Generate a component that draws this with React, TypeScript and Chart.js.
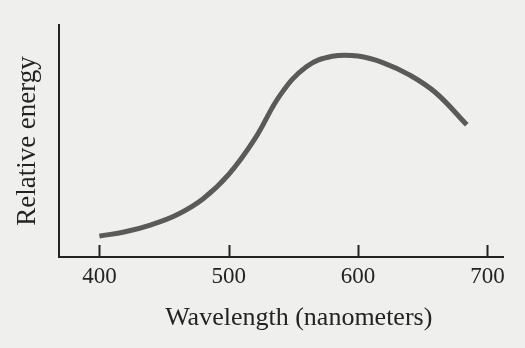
import React, { useEffect, useRef } from "react";
import { Chart, registerables } from "chart.js";

Chart.register(...registerables);

const wavelengths = [400, 420, 440, 460, 480, 500, 520, 540, 560, 580, 600, 620, 640, 660, 684];
const energy = [9.0, 10.9, 13.9, 18.2, 25.0, 35.6, 50.8, 70.0, 82.0, 86.5, 86.6, 83.6, 78.4, 70.8, 57.0];
const xTicks = [400, 500, 600, 700];
const xTitle = "Wavelength (nanometers)";
const yTitle = "Relative energy";

const FONT = "'Liberation Serif', 'Times New Roman', serif";
const INK = "#232323";

const axisDecor = {
  id: "axisDecor",
  afterDraw(chart: any) {
    const sx = chart.scales.x;
    const ctx = chart.ctx;
    const { bottom, left, right } = chart.chartArea;
    ctx.save();
    ctx.strokeStyle = INK;
    ctx.lineWidth = 2;
    for (const v of xTicks) {
      const px = Math.round(sx.getPixelForValue(v)) + 0.5;
      ctx.beginPath();
      ctx.moveTo(px, bottom);
      ctx.lineTo(px, bottom - 12);
      ctx.stroke();
    }
    ctx.fillStyle = INK;
    ctx.font = `26px ${FONT}`;
    ctx.textAlign = "center";
    ctx.textBaseline = "middle";
    ctx.fillText(xTitle, (left + right) / 2 + 18, bottom + 61);
    ctx.restore();
  },
};

export default function App() {
  const ref = useRef<HTMLCanvasElement | null>(null);
  useEffect(() => {
    if (!ref.current) return;
    const chart = new Chart(ref.current, {
      type: "scatter",
      data: {
        datasets: [
          {
            data: wavelengths.map((w, i) => ({ x: w, y: energy[i] })),
            showLine: true,
            borderColor: "#5a5a5a",
            borderWidth: 5,
            borderCapStyle: "butt",
            pointRadius: 0,
            tension: 0.4,
            fill: false,
          } as any,
        ],
      },
      options: {
        responsive: false,
        animation: false,
        layout: { padding: { top: 25, right: 22, left: 0, bottom: 0 } },
        plugins: { legend: { display: false }, tooltip: { enabled: false } },
        scales: {
          x: {
            type: "linear",
            min: 368.4,
            max: 712,
            afterBuildTicks: (s: any) => {
              s.ticks = xTicks.map((v) => ({ value: v }));
            },
            afterFit: (s: any) => {
              s.height = 91;
            },
            grid: { display: false, drawTicks: false },
            border: { display: true, color: INK, width: 2 },
            ticks: {
              color: INK,
              padding: 6,
              font: { family: FONT, size: 23 },
              maxRotation: 0,
              autoSkip: false,
            },
            title: { display: false, text: xTitle },
          },
          y: {
            min: 0,
            max: 100,
            afterFit: (s: any) => {
              s.width = 58.5;
            },
            grid: { display: false, drawTicks: false },
            border: { display: true, color: INK, width: 2 },
            ticks: { display: false },
            title: {
              display: true,
              text: yTitle,
              color: INK,
              font: { family: FONT, size: 27 },
              padding: { top: 12, bottom: 0 },
            },
          },
        },
      },
      plugins: [axisDecor],
    });
    return () => chart.destroy();
  }, []);
  return (
    <div
      style={{
        position: "fixed",
        left: 0,
        top: 0,
        width: 525,
        height: 348,
        background: "#efefed",
      }}
    >
      <canvas ref={ref} width={525} height={348} style={{ display: "block" }} />
    </div>
  );
}
